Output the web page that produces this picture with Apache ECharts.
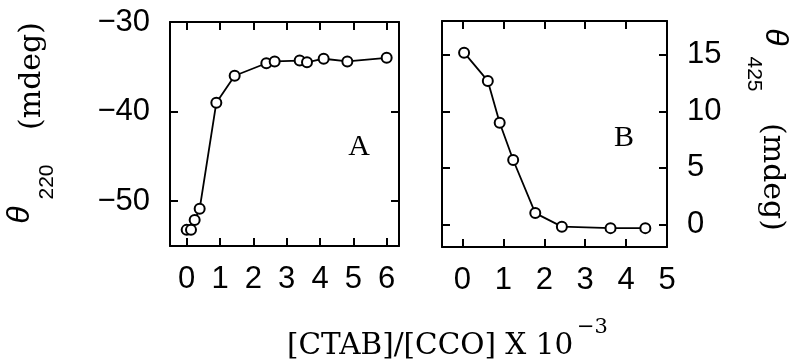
<!DOCTYPE html>
<html>
<head>
<meta charset="utf-8">
<script src="https://cdn.jsdelivr.net/npm/echarts@6/dist/echarts.min.js"></script>
<style>
  html, body { margin: 0; padding: 0; background: #fff; }
  #chart { width: 797px; height: 364px; }
</style>
</head>
<body>
<div id="chart"></div>
<script>
// Panel A: theta at 220 nm vs [CTAB]/[CCO] x 10^-3
const ratioA = [0, 0.13, 0.24, 0.39, 0.89, 1.44, 2.39, 2.64, 3.39, 3.61, 4.11, 4.82, 6.0];
const theta220 = [-53.2, -53.2, -52.1, -50.85, -39.0, -36.0, -34.6, -34.4, -34.3, -34.5, -34.1, -34.4, -34.0];

// Panel B: theta at 425 nm
const ratioB = [0.04, 0.62, 0.91, 1.24, 1.78, 2.43, 3.62, 4.47];
const theta425 = [15.2, 12.7, 9.0, 5.7, 1.0, -0.2, -0.33, -0.33];

const xTicksA = [0, 1, 2, 3, 4, 5, 6];
const yTicksA = [-50, -40, -30];
const xTicksB = [0, 1, 2, 3, 4, 5];
const yTicksB = [0, 5, 10, 15];

const chart = echarts.init(document.getElementById('chart'));

const tickFont = { fontFamily: 'Liberation Sans', fontSize: 31, color: '#000' };
const frame = { show: true, onZero: false, lineStyle: { color: '#000', width: 2 } };

function minus(v) {
    return String(v).replace('-', '\u2212');
}

function xAxis(grid, pos, ticks, min, max, labels) {
    return {
        type: 'value', gridIndex: grid, position: pos, min: min, max: max,
        axisLine: frame,
        axisTick: { show: true, inside: true, length: 8, customValues: ticks, lineStyle: { color: '#000', width: 2 } },
        axisLabel: labels ? Object.assign({ show: true, margin: 18, customValues: ticks, formatter: minus }, tickFont) : { show: false },
        splitLine: { show: false }
    };
}

function yAxis(grid, pos, ticks, min, max, labels) {
    return {
        type: 'value', gridIndex: grid, position: pos, min: min, max: max,
        axisLine: frame,
        axisTick: { show: true, inside: true, length: 8, customValues: ticks, lineStyle: { color: '#000', width: 2 } },
        axisLabel: labels ? Object.assign({ show: true, margin: 20, customValues: ticks, formatter: minus }, tickFont) : { show: false },
        splitLine: { show: false }
    };
}

function pairs(xs, ys) {
    let d = [];
    for (let i = 0; i < xs.length; i++) d.push([xs[i], ys[i]]);
    return d;
}

const lineSeries = (xi, yi, data) => ({
    type: 'line', xAxisIndex: xi, yAxisIndex: yi, data: data,
    symbol: 'emptyCircle', symbolSize: 10,
    itemStyle: { color: '#000', borderWidth: 1.8 },
    lineStyle: { color: '#000', width: 1.8 }
});

const serif = "'DejaVu Serif', 'Liberation Serif', serif";

const option = {
    animation: false,
    backgroundColor: '#fff',
    grid: [
        { left: 170, top: 22, width: 229, height: 224 },
        { left: 442, top: 21, width: 225, height: 226 }
    ],
    xAxis: [
        xAxis(0, 'bottom', xTicksA, -0.5, 6.37, true),
        xAxis(0, 'top', xTicksA, -0.5, 6.37, false),
        xAxis(1, 'bottom', xTicksB, -0.5, 5, true),
        xAxis(1, 'top', xTicksB, -0.5, 5, false)
    ],
    yAxis: [
        yAxis(0, 'left', yTicksA, -55, -30, true),
        yAxis(0, 'right', yTicksA, -55, -30, false),
        yAxis(1, 'left', yTicksB, -2, 18, false),
        yAxis(1, 'right', yTicksB, -2, 18, true)
    ],
    series: [
        lineSeries(0, 0, pairs(ratioA, theta220)),
        lineSeries(2, 2, pairs(ratioB, theta425))
    ],
    graphic: [
        // left axis title (reads bottom to top)
        { type: 'text', x: 20, y: 215, rotation: Math.PI / 2,
          style: { text: '\u03b8', font: "italic 32px 'Liberation Sans'", fill: '#000', align: 'center', verticalAlign: 'middle' } },
        { type: 'text', x: 47, y: 182, rotation: Math.PI / 2,
          style: { text: '220', font: "21px 'Liberation Sans'", fill: '#000', align: 'center', verticalAlign: 'middle' } },
        { type: 'text', x: 32, y: 76, rotation: Math.PI / 2,
          style: { text: '(mdeg)', font: '30px ' + serif, fill: '#000', align: 'center', verticalAlign: 'middle' } },
        // right axis title (reads top to bottom)
        { type: 'text', x: 775, y: 37, rotation: -Math.PI / 2,
          style: { text: '\u03b8', font: "italic 32px 'Liberation Sans'", fill: '#000', align: 'center', verticalAlign: 'middle' } },
        { type: 'text', x: 754, y: 74, rotation: -Math.PI / 2,
          style: { text: '425', font: "21px 'Liberation Sans'", fill: '#000', align: 'center', verticalAlign: 'middle' } },
        { type: 'text', x: 772, y: 177, rotation: -Math.PI / 2,
          style: { text: '(mdeg)', font: '30px ' + serif, fill: '#000', align: 'center', verticalAlign: 'middle' } },
        // panel letters
        { type: 'text', x: 359, y: 147,
          style: { text: 'A', font: "30px 'Liberation Serif'", fill: '#000', align: 'center', verticalAlign: 'middle' } },
        { type: 'text', x: 624, y: 138,
          style: { text: 'B', font: "30px 'Liberation Serif'", fill: '#000', align: 'center', verticalAlign: 'middle' } },
        // shared x-axis title
        { type: 'text', x: 287, y: 346,
          style: { text: '[CTAB]/[CCO] X 10', font: '29.5px ' + serif, fill: '#000', align: 'left', verticalAlign: 'middle' } },
        { type: 'text', x: 577, y: 328,
          style: { text: '\u22123', font: '21px ' + serif, fill: '#000', align: 'left', verticalAlign: 'middle' } }
    ]
};

chart.setOption(option);
</script>
</body>
</html>
